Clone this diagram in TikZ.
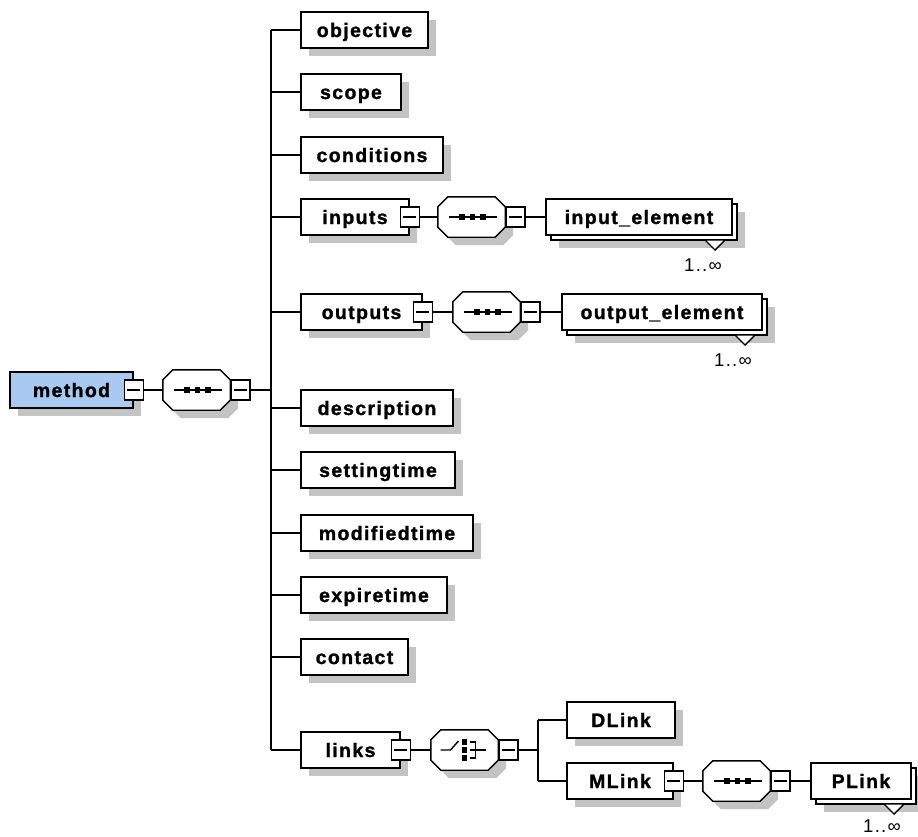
\documentclass[tikz,border=0pt]{standalone}
\usepackage{fontspec}
\newfontfamily\lblfont{Liberation Sans}[LetterSpace=7, BoldFeatures={FakeBold=1.3}]
\usetikzlibrary{shadows,calc}
\definecolor{shgray}{RGB}{195,195,195}
\definecolor{methodblue}{RGB}{168,202,240}
\tikzset{
  ln/.style={line width=1.4pt},
  shad/.style={drop shadow={shadow xshift=8pt, shadow yshift=-8pt, fill=shgray, opacity=1}},
  boxbase/.style={draw, ln, fill=white, minimum height=36pt, inner sep=0pt,
    text height=16pt, text depth=2pt,
    font=\lblfont\bfseries\fontsize{19.5}{22}\selectfont},
  shbox/.style={boxbase, shad},
  minusbox/.style={draw, ln, fill=white, minimum width=19pt, minimum height=20pt, inner sep=0pt,
    path picture={\draw[line width=1.2pt] ([xshift=3pt]path picture bounding box.west) -- ([xshift=-3pt]path picture bounding box.east);}},
  octnode/.style={minimum width=67pt, minimum height=40pt, inner sep=0pt, draw=none},
  octline/.style={draw, ln, fill=white, shad},
  multlbl/.style={inner sep=0pt, font=\lblfont\fontsize{18.5}{21}\selectfont},
}
% plain element box
\newcommand\elem[6][]{\node[shbox, #1, minimum width={(#4-#3)*1pt}] (#2) at ({(#3+#4)/2},#5) {#6};}
% element box with collapse (minus) box
\newcommand\elemm[6][]{%
  \node[shbox, #1, minimum width={(#4-#3)*1pt}] (#2) at ({(#3+#4)/2},#5) {#6\hspace{9.5pt}};
  \node[minusbox] (#2-m) at (#2.east) {};}
% stacked (multiple) element
\newcommand\elemst[6][48]{%
  \node[shbox, minimum width={(#4-#3)*1pt}] (#2-b) at ({(#3+#4)/2+5},{#5+5}) {};
  \node[boxbase, minimum width={(#4-#3)*1pt}] (#2) at ({(#3+#4)/2},#5) {#6};
  \draw[ln, fill=white] ({#4-27},{#5+23}) -- ({#4-7},{#5+23}) -- ({#4-17},{#5+33}) -- cycle;
  \node[multlbl] (#2-l) at ({#4-29},{#5+#1}) {1..∞};}
% octagon compositor frame
\newcommand\octframe[3]{%
  \node[octnode] (#1) at ({#2+33.5},#3) {};
  \path[octline] ([xshift=10pt]#1.north west) -- ([xshift=-10pt]#1.north east)
    -- ([yshift=-10pt]#1.north east) -- ([yshift=10pt]#1.south east)
    -- ([xshift=-10pt]#1.south east) -- ([xshift=10pt]#1.south west)
    -- ([yshift=10pt]#1.south west) -- ([yshift=-10pt]#1.north west) -- cycle;
  \node[minusbox, anchor=west] (#1-m) at (#1.east) {};}
% sequence symbol
\newcommand\seqsym[1]{%
  \draw[ln] ([xshift=-23pt]#1.center) -- ([xshift=25pt]#1.center);
  \fill ([xshift=-9.5pt]#1.center) +(-2.7,-2.7) rectangle +(2.7,2.7);
  \fill ([xshift=1pt]#1.center) +(-2.7,-2.7) rectangle +(2.7,2.7);
  \fill ([xshift=11.5pt]#1.center) +(-2.7,-2.7) rectangle +(2.7,2.7);}
\begin{document}
\begin{tikzpicture}[x=1pt, y=-1pt]
\useasboundingbox (0,0) rectangle (918,836);
% coordinates of the bars
\coordinate (bartop) at (271,30);
\coordinate (barbot) at (271,750);
\coordinate (brtop) at (538,720);
\coordinate (brbot) at (538,781);
% root
\elemm[fill=methodblue]{method}{10}{133}{390}{method}
\octframe{o1}{163}{390}\seqsym{o1}
% children
\elem{objective}{301}{428}{30}{objective}
\elem{scope}{301}{401}{92}{scope}
\elem{conditions}{301}{443}{155}{conditions}
\elemm{inputs}{301}{409}{217}{inputs}
\elemm{outputs}{301}{422}{312}{outputs}
\elem{description}{301}{453}{408}{description}
\elem{settingtime}{301}{455}{470}{settingtime}
\elem{modifiedtime}{301}{473}{533}{modifiedtime}
\elem{expiretime}{301}{447}{595}{expiretime}
\elem{contact}{301}{408}{657}{contact}
\elemm{links}{301}{400}{750}{links}
% inputs subtree
\octframe{o2}{438}{217}\seqsym{o2}
\elemst{inel}{546}{732}{217}{input\_element}
% outputs subtree
\octframe{o3}{453}{312}\seqsym{o3}
\elemst{outel}{562}{762}{312}{output\_element}
% links subtree
\octframe{o4}{431}{750}
\draw[ln] ([xshift=-24pt]o4.center) -- ([xshift=-14pt]o4.center) -- ([xshift=-6pt,yshift=9pt]o4.center);
\fill ([yshift=8pt]o4.center) +(-2.6,-3) rectangle +(2.6,3);
\fill (o4.center) +(-2.6,-2.6) rectangle +(2.6,2.6);
\fill ([yshift=-8pt]o4.center) +(-2.6,-2.6) rectangle +(2.6,2.6);
\draw[ln] ([xshift=5pt,yshift=8pt]o4.center) -- ([xshift=11pt,yshift=8pt]o4.center)
  -- ([xshift=11pt,yshift=-8pt]o4.center) -- ([xshift=5pt,yshift=-8pt]o4.center);
\draw[ln] ([xshift=5pt]o4.center) -- ([xshift=21pt]o4.center);
\elem{dlink}{567}{675}{720}{DLink}
\elemm{mlink}{567}{673}{781}{MLink}
\octframe{o5}{703}{781}\seqsym{o5}
\elemst[45]{plink}{811}{911}{781}{PLink}
% connectors
\draw[ln] (method-m.east) -- (o1.west);
\draw[ln] (o1-m.east) -- (o1-m.east -| bartop);
\draw[ln] (bartop) -- (barbot);
\foreach \n in {objective,scope,conditions,inputs,outputs,description,settingtime,modifiedtime,expiretime,contact,links}
  \draw[ln] (\n.west -| bartop) -- (\n.west);
\draw[ln] (inputs-m.east) -- (o2.west);
\draw[ln] (o2-m.east) -- (inel.west);
\draw[ln] (outputs-m.east) -- (o3.west);
\draw[ln] (o3-m.east) -- (outel.west);
\draw[ln] (links-m.east) -- (o4.west);
\draw[ln] (o4-m.east) -- (o4-m.east -| brtop);
\draw[ln] (brtop) -- (brbot);
\draw[ln] (dlink.west -| brtop) -- (dlink.west);
\draw[ln] (mlink.west -| brtop) -- (mlink.west);
\draw[ln] (mlink-m.east) -- (o5.west);
\draw[ln] (o5-m.east) -- (plink.west);
\end{tikzpicture}
\end{document}
